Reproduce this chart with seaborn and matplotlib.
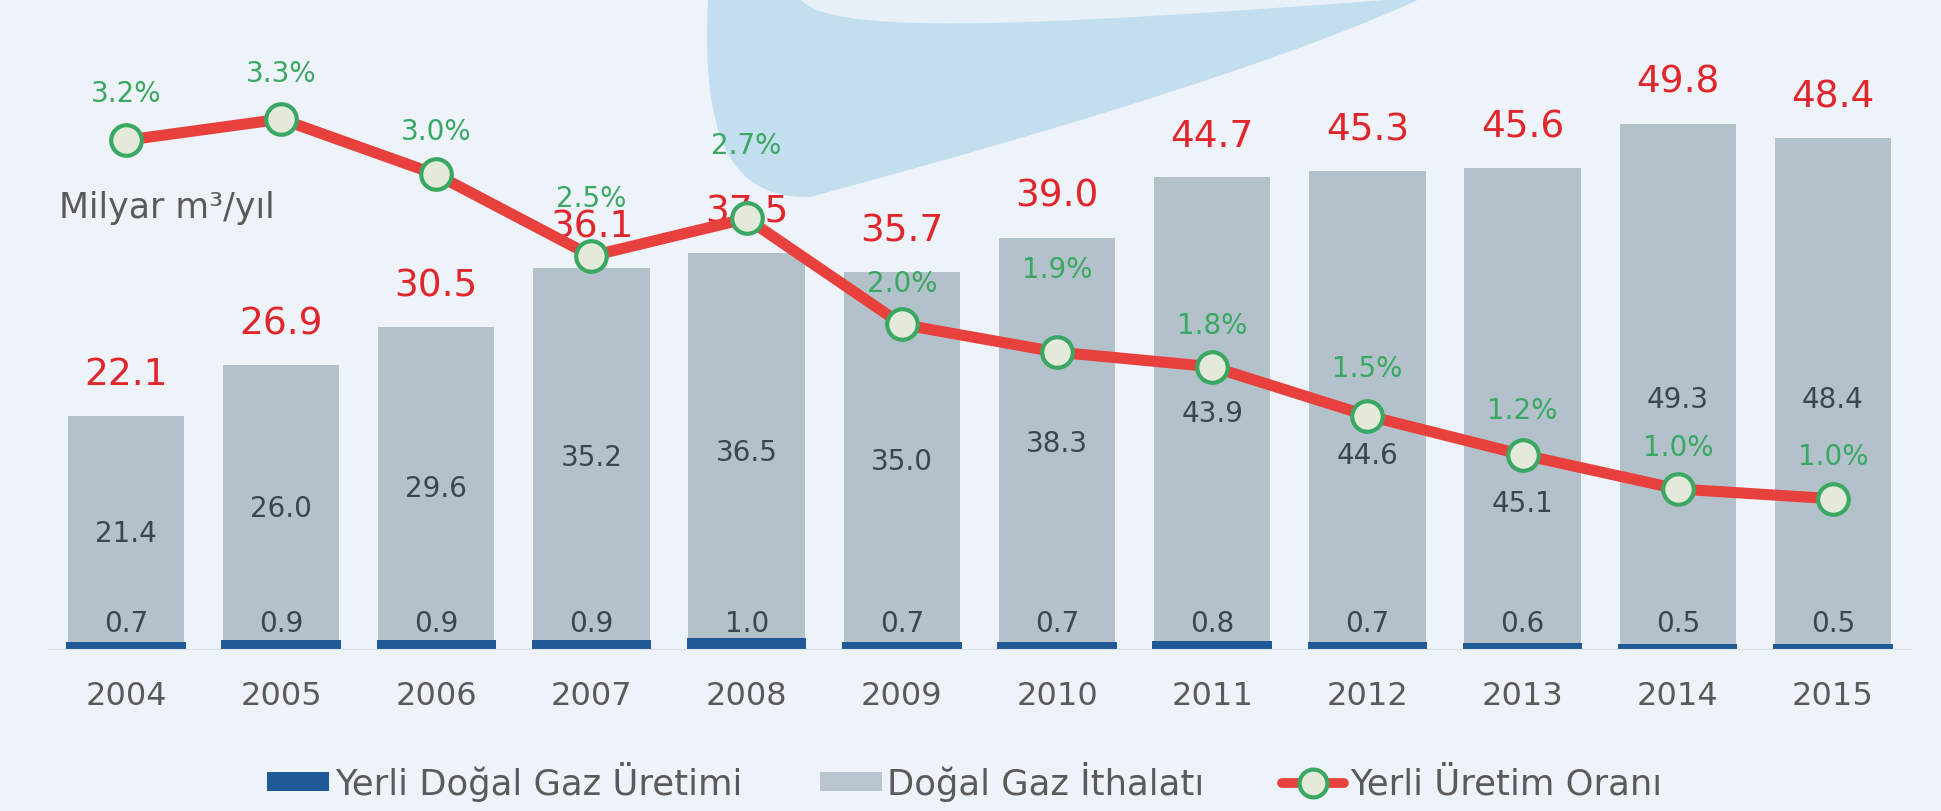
import matplotlib
matplotlib.use("Agg")
import matplotlib.pyplot as plt
import seaborn as sns
from matplotlib.path import Path
from matplotlib.patches import PathPatch, Patch
from matplotlib.lines import Line2D

years = ["2004", "2005", "2006", "2007", "2008", "2009",
         "2010", "2011", "2012", "2013", "2014", "2015"]
production = [0.7, 0.9, 0.9, 0.9, 1.0, 0.7, 0.7, 0.8, 0.7, 0.6, 0.5, 0.5]
imports = [21.4, 26.0, 29.6, 35.2, 36.5, 35.0, 38.3, 43.9, 44.6, 45.1, 49.3, 48.4]
totals = [22.1, 26.9, 30.5, 36.1, 37.5, 35.7, 39.0, 44.7, 45.3, 45.6, 49.8, 48.4]
ratio = [3.17, 3.30, 2.96, 2.46, 2.69, 2.04, 1.87, 1.78, 1.48, 1.24, 1.03, 0.97]

# label placement (not data)
imp_label_y = [11.0, 13.4, 15.3, 18.2, 18.7, 17.8, 19.5, 22.4, 18.4, 13.8, 23.7, 23.7]
pct_offset = [34, 33, 31, 42, 53, 30, 60, 30, 34, 32, 30, 31]

BG = "#edf3f9"
GRAY = "#b3c1cb"
BLUE = "#1f5a96"
RED = "#e8403c"
RED_TXT = "#e0252b"
GREEN = "#3aa862"
DARK = "#3c4650"
TXT = "#5a5a5a"

sns.set_style("white")
plt.rcParams["font.family"] = ["DejaVu Sans"]

fig = plt.figure(figsize=(19.41, 8.12), dpi=100, facecolor=BG)

# decorative blob at the top
W, H = 1941.0, 812.0
def f(x, y):
    return (x / W, 1 - y / H)
verts = [f(708, 0), f(702, 130), f(725, 200), f(810, 198),
         f(1100, 120), f(1300, 55), f(1420, 0), f(708, 0)]
codes = [Path.MOVETO, Path.CURVE4, Path.CURVE4, Path.CURVE4,
         Path.CURVE4, Path.CURVE4, Path.CURVE4, Path.CLOSEPOLY]
fig.patches.append(PathPatch(Path(verts, codes), facecolor="#c3deee",
                             edgecolor="none", transform=fig.transFigure, zorder=-1))
verts2 = [f(800, 0), f(830, 35), f(1000, 30), f(1400, 0), f(800, 0)]
codes2 = [Path.MOVETO, Path.CURVE4, Path.CURVE4, Path.CURVE4, Path.CLOSEPOLY]
fig.patches.append(PathPatch(Path(verts2, codes2), facecolor="#e9f1f8",
                             edgecolor="none", transform=fig.transFigure, zorder=-1))

ax = fig.add_axes([0.0249, 0.1995, 0.9594, 0.7389])
ax.patch.set_alpha(0)

sns.barplot(x=years, y=totals, color=GRAY, width=0.75, saturation=1,
            linewidth=0, edgecolor="none", ax=ax)
sns.barplot(x=years, y=production, color=BLUE, width=0.77, saturation=1,
            linewidth=0, edgecolor="none", ax=ax)

ax.set_xlim(-0.5, 11.5)
ax.set_ylim(0, 56.87)
ax.set_xlabel("")
ax.set_ylabel("")
ax.set_yticks([])
ax.tick_params(axis="x", length=0, labelsize=23, labelcolor=TXT, pad=22)
for s in ["top", "right", "left"]:
    ax.spines[s].set_visible(False)
ax.spines["bottom"].set_color("#dde2e7")

for i in range(len(years)):
    ax.annotate(f"{totals[i]:.1f}", (i, totals[i]), xytext=(0, 30),
                textcoords="offset points", ha="center", va="center",
                fontsize=27, color=RED_TXT)
    ax.text(i, imp_label_y[i], f"{imports[i]:.1f}", ha="center", va="center",
            fontsize=20, color=DARK)
    ax.text(i, 2.5, f"{production[i]:.1f}", ha="center", va="center",
            fontsize=20, color=DARK)

ax2 = ax.twinx()
ax2.patch.set_alpha(0)
sns.lineplot(x=list(range(len(years))), y=ratio, ax=ax2, color=RED, lw=8,
             marker="o", markersize=22, markerfacecolor="#e3ead9",
             markeredgecolor=GREEN, markeredgewidth=3, zorder=5)
ax2.set_ylim(0.048, 3.73)
ax2.set_yticks([])
ax2.set_ylabel("")
for s in ax2.spines.values():
    s.set_visible(False)

for i in range(len(years)):
    ax2.annotate(f"{ratio[i]:.1f}%", (i, ratio[i]), xytext=(0, pct_offset[i]),
                 textcoords="offset points", ha="center", va="center",
                 fontsize=20, color=GREEN, zorder=6)

fig.text(0.0304, 0.744, "Milyar m³/yıl", fontsize=25, color=TXT,
         ha="left", va="center")

handles = [
    Patch(facecolor=BLUE, edgecolor="none", label="Yerli Doğal Gaz Üretimi"),
    Patch(facecolor="#b9c6cf", edgecolor="none", label="Doğal Gaz İthalatı"),
    Line2D([], [], color=RED, lw=7, marker="o", markersize=20,
           markerfacecolor="#e3ead9", markeredgecolor=GREEN, markeredgewidth=3,
           label="Yerli Üretim Oranı"),
]
leg = fig.legend(handles=handles, loc="center", bbox_to_anchor=(0.497, 0.037),
                 ncol=3, frameon=False, fontsize=25.5, handlelength=1.75,
                 handleheight=0.45, handletextpad=0.15, columnspacing=2.2)
for t in leg.get_texts():
    t.set_color(TXT)

fig.savefig("out.png", dpi=100, facecolor=BG)
